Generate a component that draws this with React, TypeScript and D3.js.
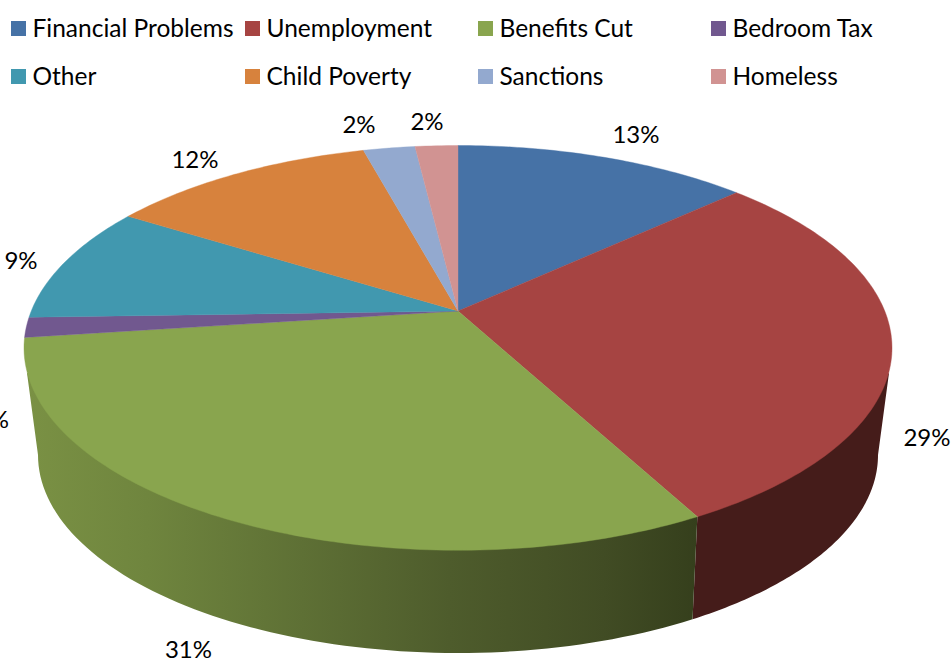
import React from "react";
import * as d3 from "d3";

const categories = ["Financial Problems", "Unemployment", "Benefits Cut", "Bedroom Tax", "Other", "Child Poverty", "Sanctions", "Homeless"];
const shares = [13.1, 29.1, 30.7, 1.6, 9.4, 11.9, 2.3, 1.9];
const shareLabels = ["13%", "29%", "31%", "2%", "9%", "12%", "2%", "2%"];
const sliceColors = ["#4672A6", "#A64442", "#89A54E", "#71588F", "#4198AF", "#D7823D", "#93A9CF", "#D19392"];

const W = 952, H = 659;
const FONT = "Lato, Carlito, Calibri, sans-serif";
const FS = 24;
const LEGEND_FS = 24.5;
// projection of the tilted disc
const CX = 458, APEX_Y = 311, FAR_Y = 145.5, NEAR_Y = 552, RX = 434;
const TOP = { cy: (FAR_Y + NEAR_Y) / 2, rx: RX, ry: (NEAR_Y - FAR_Y) / 2 };
const BOT = { cy: 455, rx: 420, ry: 198 };
const persp = 74 / 406;
const tiltA = FAR_Y * persp - (APEX_Y - FAR_Y);
const sx = RX * Math.sqrt(1 - persp * persp);

function project(theta: number): [number, number] {
  const u = Math.sin(theta), v = Math.cos(theta);
  const w = 1 + persp * v;
  return [CX + (sx * u) / w, (tiltA * v + APEX_Y) / w];
}
const APEX: [number, number] = [CX, APEX_Y];
const lineGen = d3.line<[number, number]>();

const labelPos: [number, number, string][] = [
  [636, 143, "middle"], [927, 446, "middle"], [188.5, 658, "middle"], [9, 428, "end"],
  [21, 269, "middle"], [195, 168, "middle"], [359, 133, "middle"], [427, 130, "middle"],
];
const legendX = [11, 245, 478, 711];
const legendY = [21, 69];

const greenWallStops: [number, string][] = [
  [0, "#7A9144"], [0.18, "#6F853E"], [0.41, "#5E7035"], [0.63, "#4E5C2C"], [0.86, "#414C24"], [1, "#353F1C"],
];

function ellipseArc(e: typeof TOP, a0: number, a1: number): [number, number][] {
  const n = 80;
  return d3.range(n + 1).map((i) => {
    const a = a0 + ((a1 - a0) * i) / n;
    return [CX + e.rx * Math.cos(a), e.cy + e.ry * Math.sin(a)] as [number, number];
  });
}

export default function App() {
  const arcs = d3.pie<number>().sort(null).startAngle(0).endAngle(2 * Math.PI)(shares);
  const slices = arcs.map((a) => {
    const n = Math.max(8, Math.ceil((a.endAngle - a.startAngle) * 60));
    const pts = d3.range(n + 1).map((i) => project(a.startAngle + ((a.endAngle - a.startAngle) * i) / n));
    return lineGen([APEX, ...pts])! + "Z";
  });

  // the red/green boundary on the rim, in ellipse parameter
  const [bx, by] = project(arcs[1].endAngle);
  const split = Math.atan2((by - TOP.cy) / TOP.ry, (bx - CX) / TOP.rx) - 0.004;
  const tanR: [number, number] = [889, 373];
  const tanL: [number, number] = [27, 373];
  const redWall = lineGen([tanR, ...ellipseArc(BOT, 0, split), [bx, by]])! + "Z";
  const greenWall = lineGen([[bx, by], ...ellipseArc(BOT, split, Math.PI), tanL])! + "Z";

  return (
    <svg width={W} height={H} viewBox={`0 0 ${W} ${H}`} style={{ position: "absolute", left: 0, top: 0, background: "#fff" }}>
      <defs>
        <linearGradient id="greenWall" gradientUnits="userSpaceOnUse" x1={27} x2={698} y1={0} y2={0}>
          {greenWallStops.map(([o, c]) => <stop key={o} offset={o} stopColor={c} />)}
        </linearGradient>
      </defs>
      <path d={redWall} fill="#451C1A" />
      <path d={greenWall} fill="url(#greenWall)" />
      {slices.map((d, i) => <path key={i} d={d} fill={sliceColors[i]} stroke={sliceColors[i]} strokeWidth={0.4} />)}
      {shareLabels.map((t, i) => (
        <text key={i} x={labelPos[i][0]} y={labelPos[i][1]} textAnchor={labelPos[i][2] as any} fontFamily={FONT} fontSize={FS} fill="#000">{t}</text>
      ))}
      {categories.map((c, i) => {
        const col = i % 4, row = Math.floor(i / 4);
        return (
          <g key={c}>
            <rect x={legendX[col]} y={legendY[row]} width={15} height={15} fill={sliceColors[i]} />
            <text x={legendX[col] + 21.5} y={legendY[row] + 15.5} fontFamily={FONT} fontSize={LEGEND_FS} fill="#000">{c}</text>
          </g>
        );
      })}
    </svg>
  );
}
